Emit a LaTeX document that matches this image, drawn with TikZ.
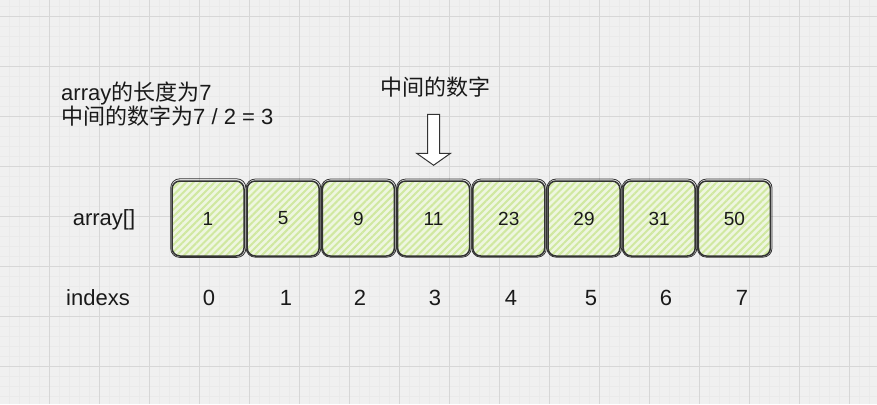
\documentclass[tikz,border=0pt]{standalone}
\usepackage{fontspec}
\setmainfont{Liberation Sans}
\newfontfamily\cjk{Noto Sans CJK SC}
\usetikzlibrary{patterns.meta}

\definecolor{bgcol}{HTML}{F0F0F0}
\definecolor{minorcol}{HTML}{EAEAEA}
\definecolor{majorcol}{HTML}{D7D7D7}
\definecolor{cellfill}{HTML}{EEF6E0}
\definecolor{cellhatch}{HTML}{D0E8A0}
\definecolor{ink}{HTML}{1A1A1A}
\definecolor{pen}{HTML}{333333}

\begin{document}
\begin{tikzpicture}[x=1pt,y=-1pt,
	cell/.style={minimum width=72pt, minimum height=75pt, inner sep=0pt,
		rounded corners=8pt, draw=pen, line width=1.5pt,
		preaction={fill=cellfill},
		pattern={Lines[angle=45,distance=5pt,line width=2pt]}, pattern color=cellhatch,
		text=ink, font=\fontsize{19}{21}\selectfont},
	lbl/.style={text=ink, inner sep=0pt, font=\fontsize{22}{24}\selectfont},
	]

\def\cellx{208}
\def\celly{218.5}
\def\celld{75.2}
\def\idxy{298}

% background
\useasboundingbox (0,0) rectangle (877,404);
\fill [bgcol] (0,0) rectangle (877,404);
\foreach \gx in {-1,9,...,879} \draw [minorcol, line width=0.4pt] (\gx,0) -- (\gx,404);
\foreach \gy in {6.5,16.5,...,404} \draw [minorcol, line width=0.4pt] (0,\gy) -- (877,\gy);
\foreach \gx in {49,99,...,849} \draw [majorcol, line width=0.8pt] (\gx,0) -- (\gx,404);
\foreach \gy in {16.5,66.5,...,366.5} \draw [majorcol, line width=0.8pt] (0,\gy) -- (877,\gy);

% array cells
\foreach \val [count=\i from 0] in {1,5,9,11,23,29,31,50}
	\node [cell] (c\i) at (\cellx+\celld*\i, \celly) {\val};
% second, rougher stroke
\foreach \i in {0,...,7}
	\draw [pen, line width=0.8pt, rounded corners=9pt]
		([shift={(-0.3,-1.2)}]c\i.north west) rectangle ([shift={(0.9,0.4)}]c\i.south east);

% labels
\node [lbl] (arrlabel) at (104,220) {array[]};
\node [lbl] (idxlabel) at (98,\idxy) {indexs};
\foreach \ix [count=\i from 0] in {209,286,360,435,511,591,666,742}
	\node [lbl] (idx\i) at (\ix,\idxy) {\i};

\node [lbl, anchor=west, align=left] (lennote) at (61,104.5)
	{array{\cjk 的长度为}7\\{\cjk 中间的数字为}7 / 2 = 3};
\node [lbl] (midlabel) at (435,87) {\cjk 中间的数字};

% hollow arrow onto the middle cell
\coordinate (arrtip) at ([yshift=15pt]c3.north);
\draw [pen, line width=1pt, fill=white] (arrtip) -- ++(-17,-12) -- ++(11,0) -- ++(0,-39)
	-- ++(12,0) -- ++(0,39) -- ++(11,0) -- cycle;

\end{tikzpicture}
\end{document}
